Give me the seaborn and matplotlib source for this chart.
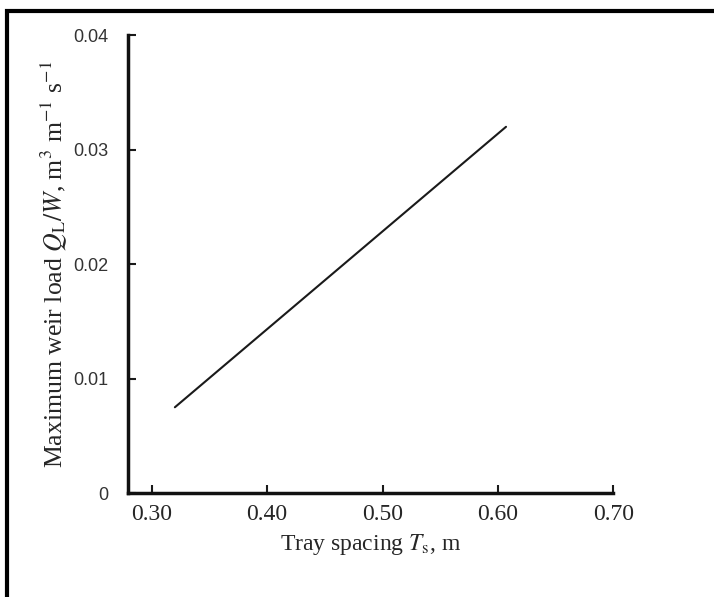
import matplotlib
matplotlib.use("Agg")
import matplotlib.pyplot as plt
import seaborn as sns
import pandas as pd
from matplotlib.patches import Rectangle

# Maximum weir load versus tray spacing
tray_spacing = [0.32, 0.607]
weir_load = [0.0075, 0.032]
x_ticks = [0.30, 0.40, 0.50, 0.60, 0.70]
x_tick_labels = ["0.30", "0.40", "0.50", "0.60", "0.70"]
y_ticks = [0.0, 0.01, 0.02, 0.03, 0.04]
y_tick_labels = ["0", "0.01", "0.02", "0.03", "0.04"]

df = pd.DataFrame({"Ts": tray_spacing, "QW": weir_load})

sns.set_style("ticks")
plt.rcParams["mathtext.fontset"] = "stix"

fig = plt.figure(figsize=(7.14, 5.97), dpi=100)
ax = fig.add_axes([0.179, 0.174, 0.680, 0.767])

sns.lineplot(data=df, x="Ts", y="QW", ax=ax, color="#1a1a1a", linewidth=1.5)

ax.set_xlim(0.2792, 0.70)
ax.set_ylim(0.0, 0.04)
ax.set_xticks(x_ticks)
ax.set_xticklabels(x_tick_labels, family="Liberation Serif", fontsize=17)
ax.set_yticks(y_ticks)
ax.set_yticklabels(y_tick_labels, family="Liberation Sans", fontsize=13, color="#333333")
ax.tick_params(axis="both", direction="in", length=6, width=1.5, color="#1a1a1a")
ax.tick_params(axis="x", pad=8)
ax.tick_params(axis="y", pad=14)

sns.despine(ax=ax)
for side in ("left", "bottom"):
    ax.spines[side].set_linewidth(2.5)
    ax.spines[side].set_color("#111111")

ax.set_xlabel(r"Tray spacing $T_\mathrm{s}$, m", family="Liberation Serif",
              fontsize=17, labelpad=5)
ax.set_ylabel(r"Maximum weir load $Q_\mathrm{L}/W$, m$^{3}$ m$^{-1}$ s$^{-1}$",
              family="Liberation Serif", fontsize=18.5, labelpad=3)

# outer frame around the figure
fig.patches.append(Rectangle((7 / 714, -0.2), 1.2, 1.2 - 11 / 597,
                             transform=fig.transFigure, fill=False,
                             edgecolor="black", linewidth=3))

fig.savefig("out.png", dpi=100)
